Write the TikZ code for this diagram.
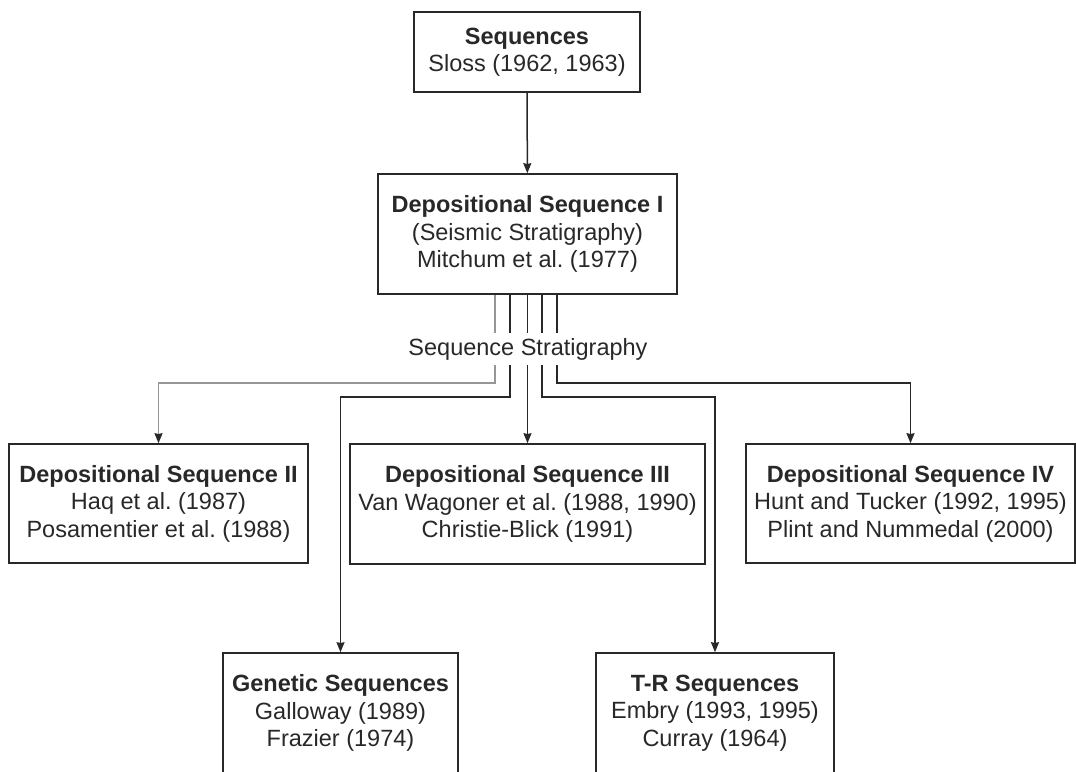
\documentclass[tikz,border=0pt]{standalone}
\usepackage{fontspec}
\setmainfont{Liberation Sans}
\frenchspacing
\usetikzlibrary{arrows.meta, positioning}
\definecolor{inkgray}{RGB}{40, 40, 40}
\definecolor{paleline}{RGB}{150, 150, 150}

\begin{document}
\begin{tikzpicture}[
  x=0.5pt, y=-0.5pt,
  sbox/.style={draw=inkgray, line width=0.8pt, align=center, inner sep=0pt, text=inkgray,
    font=\fontsize{11.75}{13.75}\selectfont},
  conn/.style={draw=inkgray, line width=0.75pt, -{Stealth[length=5pt, width=4pt, inset=0.4pt, inkgray]}},
  paleconn/.style={conn, draw=paleline}
]
  \useasboundingbox (0,0) rectangle (1076,771);
  \clip (0,0) rectangle (1076,771);

  \node[sbox, minimum width=113pt, minimum height=40pt] (sloss) at (527,52)
    {\textbf{Sequences}\\Sloss (1962, 1963)};
  \node[sbox, minimum width=149.5pt, minimum height=60pt] (dsI) at (527.5,234)
    {\textbf{Depositional Sequence I}\\(Seismic Stratigraphy)\\Mitchum et al. (1977)};
  \node[sbox, minimum width=149.5pt, minimum height=59.5pt] (dsII) at (158.5,503.5)
    {\textbf{Depositional Sequence II}\\Haq et al. (1987)\\Posamentier et al. (1988)};
  \node[sbox, minimum width=177.5pt, minimum height=60pt] (dsIII) at (527.5,504)
    {\textbf{Depositional Sequence III}\\Van Wagoner et al. (1988, 1990)\\Christie-Blick (1991)};
  \node[sbox, minimum width=164.5pt, minimum height=59.5pt] (dsIV) at (910.5,503.5)
    {\textbf{Depositional Sequence IV}\\Hunt and Tucker (1992, 1995)\\Plint and Nummedal (2000)};
  \node[sbox, minimum width=117.5pt, minimum height=60pt] (genetic) at (340.5,713)
    {\textbf{Genetic Sequences}\\Galloway (1989)\\Frazier (1974)};
  \node[sbox, minimum width=119pt, minimum height=60pt] (trseq) at (715,713)
    {\textbf{T-R Sequences}\\Embry (1993, 1995)\\Curray (1964)};

  \coordinate (outerbus) at (0,383);
  \coordinate (innerbus) at (0,397);

  \draw[conn] (sloss) -- (dsI);
  \draw[paleconn] ([xshift=-16.25pt]dsI.south) coordinate (s1) -- (s1 |- outerbus) -| (dsII.north);
  \draw[conn] ([xshift=-8.75pt]dsI.south) coordinate (s2) -- (s2 |- innerbus) -| (genetic.north);
  \draw[conn] (dsI.south) -- (dsIII.north);
  \draw[conn] ([xshift=7.25pt]dsI.south) coordinate (s4) -- (s4 |- innerbus) -| (trseq.north);
  \draw[conn] ([xshift=14.75pt]dsI.south) coordinate (s5) -- (s5 |- outerbus) -| (dsIV.north);

  \node[fill=white, text=inkgray, inner xsep=1pt, inner ysep=2.5pt, text height=8.5pt, text depth=2.5pt,
    font=\fontsize{11.75}{13.75}\selectfont] (seqstrat) at (528,349) {Sequence Stratigraphy};
\end{tikzpicture}
\end{document}
